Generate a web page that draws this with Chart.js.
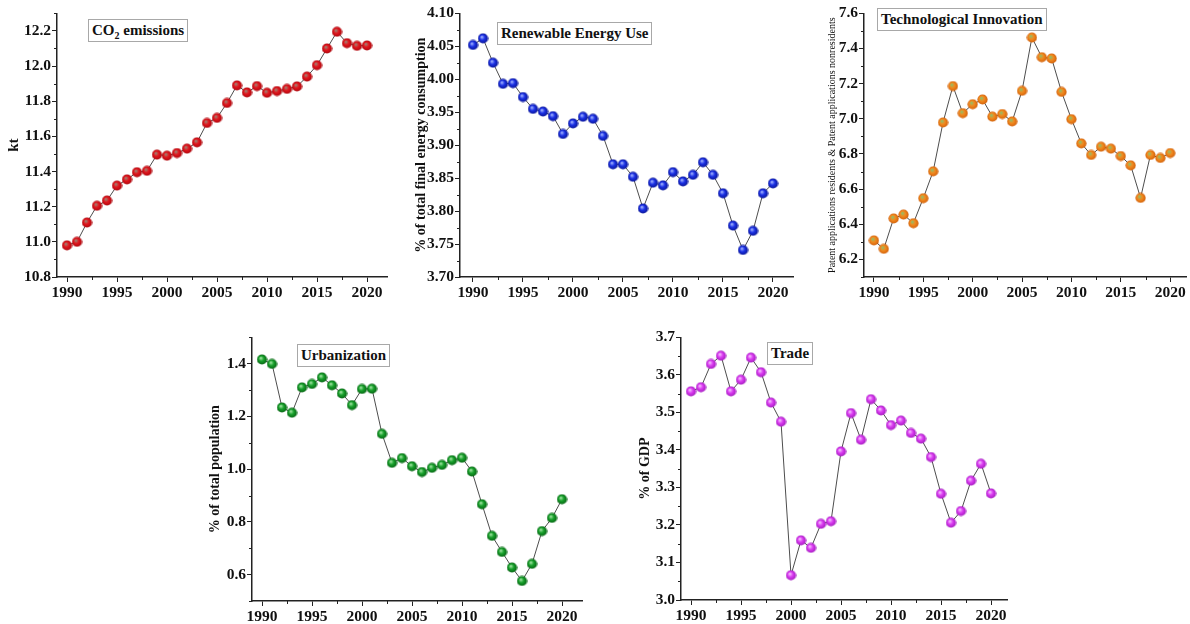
<!DOCTYPE html>
<html>
<head>
<meta charset="utf-8">
<script src="https://cdn.jsdelivr.net/npm/chart.js@4.4.0/dist/chart.umd.min.js"></script>
<style>
	body{margin:0;width:1190px;height:624px;overflow:hidden;background:#fff;position:relative;font-family:"Liberation Serif","Times New Roman",serif;}
	canvas{position:absolute;}
	.lbl{position:absolute;z-index:2;background:#fff;border:1px solid #a8a8a8;font-weight:bold;font-size:15px;line-height:17px;padding:2px 3px;white-space:nowrap;color:#111;}
	.lbl sub{font-size:10px;line-height:0;}
</style>
</head>
<body>
<canvas id="c1"></canvas>
<canvas id="c2"></canvas>
<canvas id="c3"></canvas>
<canvas id="c4"></canvas>
<canvas id="c5"></canvas>

<div class="lbl" style="left:88px;top:19px">CO<sub>2</sub> emissions</div>
<div class="lbl" style="left:497px;top:22px">Renewable Energy Use</div>
<div class="lbl" style="left:877px;top:8px">Technological Innovation</div>
<div class="lbl" style="left:297px;top:344px">Urbanization</div>
<div class="lbl" style="left:767px;top:342px">Trade</div>

<script>
// data
var years = [1990,1991,1992,1993,1994,1995,1996,1997,1998,1999,2000,2001,2002,2003,2004,2005,2006,2007,2008,2009,2010,2011,2012,2013,2014,2015,2016,2017,2018,2019,2020];
var yearTicks = [1990,1995,2000,2005,2010,2015,2020];

var co2 = [10.98,11.00,11.11,11.205,11.235,11.32,11.355,11.396,11.404,11.496,11.49,11.505,11.53,11.566,11.676,11.705,11.79,11.89,11.85,11.886,11.848,11.858,11.87,11.884,11.94,12.005,12.10,12.195,12.13,12.115,12.117];
var renewable = [4.052,4.062,4.025,3.993,3.994,3.973,3.955,3.951,3.944,3.917,3.933,3.943,3.940,3.914,3.871,3.871,3.852,3.804,3.843,3.839,3.859,3.845,3.855,3.874,3.855,3.827,3.778,3.741,3.770,3.827,3.842];
var innovation = [6.308,6.26,6.433,6.455,6.406,6.548,6.701,6.979,7.186,7.032,7.083,7.110,7.012,7.027,6.985,7.159,7.462,7.350,7.343,7.153,6.998,6.860,6.794,6.841,6.830,6.788,6.735,6.550,6.794,6.777,6.805];
var urbanization = [1.416,1.399,1.234,1.214,1.310,1.323,1.348,1.318,1.287,1.243,1.304,1.305,1.134,1.024,1.042,1.011,0.989,1.005,1.016,1.034,1.043,0.991,0.867,0.747,0.686,0.627,0.576,0.641,0.765,0.815,0.886];
var trade = [3.556,3.567,3.629,3.651,3.556,3.587,3.646,3.607,3.526,3.475,3.066,3.159,3.139,3.203,3.210,3.396,3.498,3.427,3.535,3.505,3.466,3.478,3.445,3.430,3.381,3.283,3.206,3.237,3.318,3.363,3.284];

var serif = '"Liberation Serif", "Times New Roman", serif';

// shaded ball used as point marker
function ball(base, light, dark){
	var c = document.createElement('canvas');
	c.width = 11; c.height = 11;
	var g = c.getContext('2d');
	var grd = g.createRadialGradient(4.2, 4, 0.3, 5.5, 5.5, 5.3);
	grd.addColorStop(0, light);
	grd.addColorStop(0.45, base);
	grd.addColorStop(1, dark);
	g.fillStyle = grd;
	g.beginPath(); g.arc(5.5, 5.5, 5.1, 0, Math.PI*2); g.fill();
	return c;
}

function onStep(v, step){
	var r = v / step;
	return Math.abs(r - Math.round(r)) < 1e-6;
}

// short minor tick marks
var minorTicks = {
	id:'minorTicks',
	afterDraw:function(chart, args, opts){
		var ctx = chart.ctx, sx = chart.scales.x, sy = chart.scales.y;
		ctx.save();
		ctx.strokeStyle = '#222';
		ctx.lineWidth = 1;
		ctx.beginPath();
		sx.ticks.forEach(function(t){
			if(yearTicks.indexOf(t.value) >= 0) return;
			var px = Math.round(sx.getPixelForValue(t.value)) + 0.5;
			ctx.moveTo(px, sx.top); ctx.lineTo(px, sx.top + 3);
		});
		sy.ticks.forEach(function(t){
			if(onStep(t.value, opts.yMajor)) return;
			var py = Math.round(sy.getPixelForValue(t.value)) + 0.5;
			ctx.moveTo(sy.right, py); ctx.lineTo(sy.right - 3, py);
		});
		ctx.stroke();
		ctx.restore();
	}
};

function makeChart(id, box, vals, cfg){
	var cv = document.getElementById(id);
	var lh = cfg.titleSize * 1.2;
	var left = Math.round(box.titleX - lh/2 - 6);
	var padTop = 10, padRight = box.padRight, xh = 25;
	cv.style.left = left + 'px';
	cv.style.top = (box.top - padTop) + 'px';
	cv.width = box.right - left + padRight;
	cv.height = box.bottom - box.top + padTop + xh;
	var yw = box.left - left;

	new Chart(cv.getContext('2d'), {
		type:'line',
		data:{
			datasets:[{
				data:years.map(function(y, i){ return {x:y, y:vals[i]}; }),
				borderColor:'#4d4d4d',
				borderWidth:1,
				pointStyle:cfg.ball,
				pointRadius:5,
				tension:0
			}]
		},
		plugins:[minorTicks],
		options:{
			responsive:false,
			animation:false,
			layout:{padding:{top:padTop, right:padRight, left:0, bottom:0}},
			plugins:{
				legend:{display:false},
				tooltip:{enabled:false},
				minorTicks:{yMajor:cfg.yMajor}
			},
			scales:{
				x:{
					type:'linear',
					min:box.xMin,
					max:box.xMax,
					afterFit:function(s){ s.height = xh; },
					border:{color:'#222', width:1.5},
					grid:{drawOnChartArea:false, tickLength:5, tickColor:function(c){ return yearTicks.indexOf(c.tick.value) >= 0 ? '#222' : 'rgba(0,0,0,0)'; }},
					ticks:{
						stepSize:2.5,
						includeBounds:false,
						autoSkip:false,
						maxRotation:0,
						padding:2,
						color:'#111',
						font:{family:serif, size:15.5, weight:'bold'},
						callback:function(v){ return yearTicks.indexOf(v) >= 0 ? String(v) : ''; }
					}
				},
				y:{
					min:cfg.yMin,
					max:cfg.yMax,
					afterFit:function(s){ s.width = yw; },
					border:{color:'#222', width:1.5},
					grid:{drawOnChartArea:false, tickLength:5, tickColor:function(c){ return onStep(c.tick.value, cfg.yMajor) ? '#222' : 'rgba(0,0,0,0)'; }},
					ticks:{
						stepSize:cfg.yStep,
						autoSkip:false,
						padding:1,
						color:'#111',
						font:{family:serif, size:15.5, weight:'bold'},
						callback:function(v){ return onStep(v, cfg.yMajor) ? v.toFixed(cfg.dec) : ''; }
					},
					title:{
						display:true,
						text:cfg.title,
						color:'#111',
						padding:{top:box.titleX - left - lh/2, bottom:0},
						font:{family:serif, size:cfg.titleSize, weight:cfg.titleWeight}
					}
				}
			}
		}
	});
}

// 1
makeChart('c1', {left:57, top:13, right:387, bottom:277, titleX:14, padRight:10, xMin:1989, xMax:2022}, co2, {
	yMin:10.8, yMax:12.3, yStep:0.1, yMajor:0.2, dec:1,
	title:'kt', titleSize:15, titleWeight:'bold',
	ball:ball('#e3141c', '#9a8878', '#a80a10')
});

// 2
makeChart('c2', {left:460, top:13, right:793, bottom:277, titleX:421, padRight:10, xMin:1988.7, xMax:2022}, renewable, {
	yMin:3.70, yMax:4.10, yStep:0.025, yMajor:0.05, dec:2,
	title:'% of total final energy consumption', titleSize:14, titleWeight:'bold',
	ball:ball('#1a30e6', '#a8b8ff', '#0c1690')
});

// 3
makeChart('c3', {left:864, top:13, right:1190, bottom:277, titleX:832, padRight:2, xMin:1989, xMax:2021.6}, innovation, {
	yMin:6.1, yMax:7.6, yStep:0.1, yMajor:0.2, dec:1,
	title:'Patent applications residents & Patent applications nonresidents', titleSize:10, titleWeight:'normal',
	ball:ball('#f38a1e', '#8fbf6a', '#d0600c')
});

// 4
makeChart('c4', {left:252, top:337, right:582, bottom:601, titleX:215, padRight:10, xMin:1989, xMax:2022}, urbanization, {
	yMin:0.5, yMax:1.5, yStep:0.1, yMajor:0.2, dec:1,
	title:'% of total population', titleSize:14, titleWeight:'bold',
	ball:ball('#16a02a', '#a6e6a6', '#086214')
});

// 5
makeChart('c5', {left:681, top:337, right:1007, bottom:600, titleX:645, padRight:10, xMin:1989, xMax:2021.6}, trade, {
	yMin:3.0, yMax:3.7, yStep:0.05, yMajor:0.1, dec:1,
	title:'% of GDP', titleSize:14, titleWeight:'bold',
	ball:ball('#dc3cf2', '#f6c4ff', '#a01cbc')
});
</script>
</body>
</html>
